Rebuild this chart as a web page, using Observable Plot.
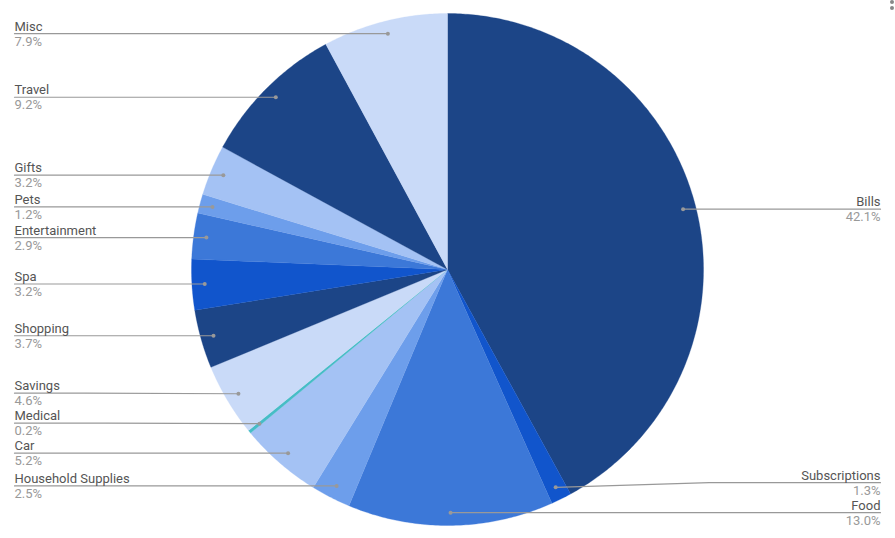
<!DOCTYPE html>
<html>
<head>
<meta charset="utf-8">
<script src="https://cdn.jsdelivr.net/npm/d3@7"></script>
<script src="https://cdn.jsdelivr.net/npm/@observablehq/plot@0.6"></script>
<style>
  html, body { margin: 0; padding: 0; background: #fff; }
  #wrap { position: relative; width: 895px; height: 538px; overflow: hidden; }
  .mdot { position: absolute; left: 890px; width: 4px; height: 4px; border-radius: 2px; background: #888; }
</style>
</head>
<body>
<div id="wrap"><div id="chart"></div><div class="mdot" style="top:0px"></div><div class="mdot" style="top:6px"></div></div>
<script>
// ---- data ----
const categories = ["Bills", "Subscriptions", "Food", "Household Supplies", "Car", "Medical", "Savings",
  "Shopping", "Spa", "Entertainment", "Pets", "Gifts", "Travel", "Misc"];
const percents = [42.1, 1.3, 13.0, 2.5, 5.2, 0.2, 4.6, 3.7, 3.2, 2.9, 1.2, 3.2, 9.2, 7.9];
const colors = ["#1c4587", "#1155cc", "#3c78d8", "#6d9eeb", "#a4c2f4", "#46bdc6", "#c9daf8",
  "#1c4587", "#1155cc", "#3c78d8", "#6d9eeb", "#a4c2f4", "#1c4587", "#c9daf8"];

// ---- layout ----
const W = 895, H = 538, CX = 447, CY = 269, R = 256;
const toX = px => (px - CX) / R, toY = py => (CY - py) / R;
const leftEdge = toX(14), rightEdge = toX(880);

const data = categories.map((c, i) => ({name: c, value: percents[i], color: colors[i], label: percents[i].toFixed(1) + "%"}));
const arcs = d3.pie().sort(null).value(d => d.value)(data);

// slice polygons
const slicePts = [];
arcs.forEach((a, i) => {
  slicePts.push({k: i, x: 0, y: 0});
  const n = Math.max(2, Math.ceil((a.endAngle - a.startAngle) / 0.01));
  for (let j = 0; j <= n; j++) {
    const t = a.startAngle + (a.endAngle - a.startAngle) * j / n;
    slicePts.push({k: i, x: Math.sin(t), y: Math.cos(t)});
  }
  slicePts.push({k: i, x: 0, y: 0});
});

// label anchors
const labels = arcs.map((a, i) => {
  const m = (a.startAngle + a.endAngle) / 2;
  const x = 0.95 * Math.sin(m), y = 0.95 * Math.cos(m);
  return {i, name: data[i].name, label: data[i].label, side: x >= 0 ? "right" : "left", dx: x, dy: y, ly: y};
});
// resolve overlaps per side (min gap in units)
const gap = 30 / R;
for (const side of ["left", "right"]) {
  const L = labels.filter(d => d.side === side).sort((a, b) => a.ly - b.ly); // bottom to top
  for (let j = 1; j < L.length; j++) {
    if (L[j].ly - L[j - 1].ly < gap) L[j].ly = L[j - 1].ly + gap;
  }
}
const leaderPts = [];
labels.forEach(d => {
  const edge = d.side === "left" ? leftEdge : rightEdge;
  leaderPts.push({k: d.i, x: d.dx, y: d.dy});
  if (Math.abs(d.ly - d.dy) > 1e-6) {
    const bx = d.dx + (d.side === "left" ? -1 : 1) * 0.6;
    leaderPts.push({k: d.i, x: bx, y: d.ly});
  }
  leaderPts.push({k: d.i, x: edge, y: d.ly});
});
const textPts = labels.map(d => ({...d, tx: d.side === "left" ? leftEdge : rightEdge}));

const chart = Plot.plot({
  width: W, height: H,
  margin: 0,
  x: {domain: [toX(0), toX(W)], axis: null},
  y: {domain: [toY(H), toY(0)], axis: null},
  style: {fontFamily: "Roboto, sans-serif", background: "#fff"},
  marks: [
    Plot.line(slicePts, {x: "x", y: "y", z: "k", fill: d => colors[d.k], stroke: d => colors[d.k], strokeWidth: 0.3, curve: "linear"}),
    Plot.line(leaderPts, {x: "x", y: "y", z: "k", stroke: "#999", strokeWidth: 1.2}),
    Plot.dot(labels, {x: "dx", y: "dy", r: 2, fill: "#999", stroke: "none"}),
    Plot.text(textPts.filter(d => d.side === "left"), {x: "tx", y: "ly", text: "name", textAnchor: "start", lineAnchor: "bottom", dy: -3, fontSize: 13, fill: "#555"}),
    Plot.text(textPts.filter(d => d.side === "left"), {x: "tx", y: "ly", text: "label", textAnchor: "start", lineAnchor: "top", dy: 3, fontSize: 13, fill: "#999"}),
    Plot.text(textPts.filter(d => d.side === "right"), {x: "tx", y: "ly", text: "name", textAnchor: "end", lineAnchor: "bottom", dy: -3, fontSize: 13, fill: "#555"}),
    Plot.text(textPts.filter(d => d.side === "right"), {x: "tx", y: "ly", text: "label", textAnchor: "end", lineAnchor: "top", dy: 3, fontSize: 13, fill: "#999"})
  ]
});
document.getElementById("chart").appendChild(chart);
</script>
</body>
</html>
